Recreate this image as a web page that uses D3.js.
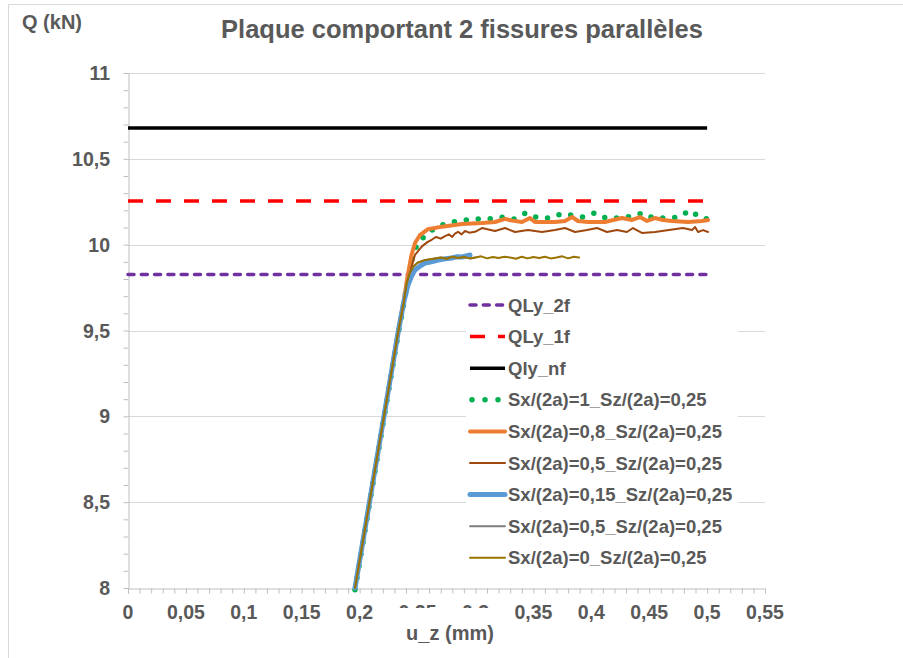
<!DOCTYPE html>
<html><head><meta charset="utf-8">
<script src="https://cdn.jsdelivr.net/npm/d3@7/dist/d3.min.js"></script>
<style>body{margin:0;background:#fff}svg{display:block}text{font-family:"Liberation Sans",Arial,sans-serif;font-weight:bold;fill:#595959}</style>
</head><body><svg id="c" width="903" height="658"></svg>
<script>
const titleText = "Plaque comportant 2 fissures parallèles";
const yTitle = "Q (kN)";
const xTitle = "u_z (mm)";
const xTickValues = [0,0.05,0.1,0.15,0.2,0.25,0.3,0.35,0.4,0.45,0.5,0.55];
const xTickLabels = ["0","0,05","0,1","0,15","0,2","0,25","0,3","0,35","0,4","0,45","0,5","0,55"];
const yTickValues = [8,8.5,9,9.5,10,10.5,11];
const yTickLabels = ["8","8,5","9","9,5","10","10,5","11"];

const seriesNames = ["QLy_2f","QLy_1f","Qly_nf","Sx/(2a)=1_Sz/(2a)=0,25","Sx/(2a)=0,8_Sz/(2a)=0,25","Sx/(2a)=0,5_Sz/(2a)=0,25","Sx/(2a)=0,15_Sz/(2a)=0,25","Sx/(2a)=0,5_Sz/(2a)=0,25","Sx/(2a)=0_Sz/(2a)=0,25"];

const uLevel = [0, 0.5];
const qLy2f = [9.826, 9.826];
const qLy1f = [10.255, 10.255];
const qLynf = [10.68, 10.68];

const uS1 = [0.196,0.2085,0.221,0.2335,0.238,0.2415,0.245,0.2495,0.2575,0.2659,0.2772,0.2884,0.3005,0.3117,0.3229,0.3333,0.3436,0.354,0.3644,0.3747,0.3842,0.3929,0.4032,0.4127,0.4239,0.4352,0.4447,0.4533,0.4654,0.4749,0.4852,0.4947,0.50];
const qS1 = [7.99,8.49,8.99,9.49,9.65,9.79,9.91,10.0,10.06,10.10,10.13,10.14,10.15,10.15,10.16,10.15,10.185,10.155,10.155,10.18,10.17,10.16,10.185,10.155,10.155,10.165,10.185,10.155,10.155,10.16,10.2,10.155,10.15];

const uS08 = [0.196,0.2085,0.221,0.2335,0.238,0.2415,0.2448,0.2478,0.252,0.259,0.2711,0.2884,0.3056,0.3169,0.3255,0.3316,0.3402,0.3471,0.3514,0.3687,0.3773,0.3834,0.3885,0.3972,0.4118,0.4265,0.4352,0.4421,0.4481,0.455,0.4619,0.4697,0.4835,0.4956,0.5008];
const qS08 = [8.0,8.5,9.0,9.5,9.67,9.82,9.94,10.01,10.055,10.09,10.105,10.12,10.126,10.132,10.15,10.14,10.132,10.155,10.132,10.132,10.138,10.161,10.138,10.132,10.132,10.155,10.144,10.161,10.138,10.155,10.144,10.138,10.132,10.138,10.144];

const uS05 = [0.196,0.2085,0.221,0.2335,0.238,0.2415,0.2448,0.2478,0.2538,0.2585,0.2625,0.266,0.27,0.2737,0.277,0.28,0.2823,0.285,0.288,0.291,0.2945,0.2996,0.3056,0.3169,0.3255,0.3341,0.3454,0.3574,0.3687,0.3773,0.386,0.3964,0.405,0.4136,0.4222,0.4308,0.436,0.4437,0.455,0.4671,0.4792,0.487,0.4896,0.4922,0.4965,0.5008];
const qS05 = [8.0,8.5,9.0,9.5,9.66,9.78,9.87,9.94,9.99,10.015,10.03,10.045,10.035,10.05,10.06,10.045,10.065,10.075,10.06,10.08,10.07,10.075,10.097,10.08,10.097,10.074,10.085,10.074,10.085,10.097,10.074,10.085,10.097,10.074,10.085,10.074,10.097,10.068,10.074,10.085,10.097,10.085,10.103,10.074,10.085,10.074];

const uS015 = [0.196,0.2085,0.221,0.2335,0.238,0.2415,0.245,0.2478,0.2521,0.2564,0.262,0.2677,0.274,0.2797,0.284,0.2884,0.292,0.2953];
const qS015 = [8.0,8.5,9.0,9.5,9.66,9.76,9.82,9.852,9.875,9.893,9.9,9.91,9.918,9.922,9.93,9.928,9.935,9.94];

const uS05b = [0.196,0.2085,0.221,0.2335,0.238,0.2405,0.243,0.246,0.25,0.256,0.265,0.27,0.275,0.28,0.285,0.29,0.295,0.30];
const qS05b = [8.0,8.5,9.0,9.5,9.66,9.77,9.83,9.87,9.895,9.91,9.92,9.925,9.918,9.93,9.922,9.928,9.92,9.925];

const uS0 = [0.196,0.2085,0.221,0.2335,0.238,0.2405,0.243,0.246,0.25,0.256,0.265,0.27,0.275,0.28,0.285,0.29,0.295,0.30,0.305,0.31,0.315,0.32,0.325,0.33,0.335,0.34,0.345,0.35,0.355,0.36,0.365,0.37,0.375,0.38,0.385,0.3894];
const qS0 = [8.0,8.5,9.0,9.5,9.66,9.77,9.83,9.87,9.895,9.91,9.92,9.925,9.918,9.93,9.922,9.928,9.92,9.925,9.932,9.92,9.928,9.922,9.93,9.925,9.918,9.93,9.92,9.928,9.922,9.93,9.92,9.925,9.932,9.92,9.93,9.925];

const seriesData = [
  {u:uLevel,q:qLy2f,color:"#7030a0",w:3.5,dash:"6,7.3",cap:"round"},
  {u:uLevel,q:qLy1f,color:"#ff0000",w:3.5,dash:"15,13",cap:"butt"},
  {u:uLevel,q:qLynf,color:"#000000",w:3.5,dash:null,cap:"butt"},
  {u:uS1,q:qS1,color:"#00b050",w:5.5,dash:"0,12",cap:"round"},
  {u:uS08,q:qS08,color:"#ed7d31",w:4,dash:null,cap:"round"},
  {u:uS05,q:qS05,color:"#9e480e",w:2,dash:null,cap:"round"},
  {u:uS015,q:qS015,color:"#5b9bd5",w:5,dash:null,cap:"round"},
  {u:uS05b,q:qS05b,color:"#7f7f7f",w:2,dash:null,cap:"round"},
  {u:uS0,q:qS0,color:"#997300",w:2,dash:null,cap:"round"}
];

const svg = d3.select("#c");
const x = d3.scaleLinear().domain([0,0.55]).range([128,765]);
const y = d3.scaleLinear().domain([8,11]).range([588,73]);

svg.append("rect").attr("x",8.5).attr("y",4.5).attr("width",1000).attr("height",1000)
  .attr("fill","none").attr("stroke","#d9d9d9");

svg.append("g").selectAll("line").data(yTickValues.slice(1)).join("line")
  .attr("x1",x(0)).attr("x2",x(0.55)).attr("y1",d=>Math.round(y(d))+0.5).attr("y2",d=>Math.round(y(d))+0.5)
  .attr("stroke","#d9d9d9").attr("stroke-width",1);

const yMinor = d3.range(80,111).map(v=>v/10);
const xMinor = d3.range(0,56).map(v=>v/100);
const gy = svg.append("g").attr("transform","translate(128.5,0)")
  .call(d3.axisLeft(y).tickValues(yMinor).tickSize(5).tickFormat(""));
const gx = svg.append("g").attr("transform","translate(0,588.5)")
  .call(d3.axisBottom(x).tickValues(xMinor).tickSize(5).tickFormat(""));
[gy,gx].forEach(g=>{g.selectAll("path,line").attr("stroke","#bfbfbf");});

svg.append("g").selectAll("text").data(yTickValues).join("text")
  .attr("x",110).attr("y",d=>y(d)).attr("dy","0.36em").attr("text-anchor","end")
  .style("font-size","19.5px").text((d,i)=>yTickLabels[i]);
svg.append("g").selectAll("text").data(xTickValues).join("text")
  .attr("x",d=>x(d)).attr("y",619).attr("text-anchor","middle")
  .style("font-size","19.5px").text((d,i)=>xTickLabels[i]);

const line = d3.line().x(d=>x(d[0])).y(d=>y(d[1]));
const gs = svg.append("g");
seriesData.forEach(s=>{
  const pts = s.u.map((u,i)=>[u,s.q[i]]);
  gs.append("path").attr("d",line(pts)).attr("fill","none").attr("stroke",s.color)
    .attr("stroke-width",s.w).attr("stroke-linecap",s.cap).attr("stroke-linejoin","round")
    .attr("stroke-dasharray",s.dash);
});

const lg = svg.append("g");
lg.append("rect").attr("x",466).attr("y",290).attr("width",272).attr("height",284).attr("fill","#fff");
seriesNames.forEach((name,i)=>{
  const s = seriesData[i];
  const cy = 305 + i*31.6;
  lg.append("line").attr("x1",s.dash==="0,12"?472:470).attr("x2",505).attr("y1",cy).attr("y2",cy)
    .attr("stroke",s.color).attr("stroke-width",s.w).attr("stroke-linecap",s.cap)
    .attr("stroke-dasharray",s.dash==="0,12"?"0,13":s.dash);
  lg.append("text").attr("x",508).attr("y",cy).attr("dy","0.36em").style("font-size","18.5px").text(name);
});

svg.append("text").attr("x",22).attr("y",29).style("font-size","20px").text(yTitle);
svg.append("rect").attr("x",398).attr("y",608).attr("width",104).attr("height",38).attr("fill","#fff");
svg.append("text").attr("x",450).attr("y",640).attr("text-anchor","middle").style("font-size","20px").text(xTitle);
svg.append("text").attr("x",462).attr("y",38).attr("text-anchor","middle").style("font-size","25.5px").text(titleText);
</script></body></html>
